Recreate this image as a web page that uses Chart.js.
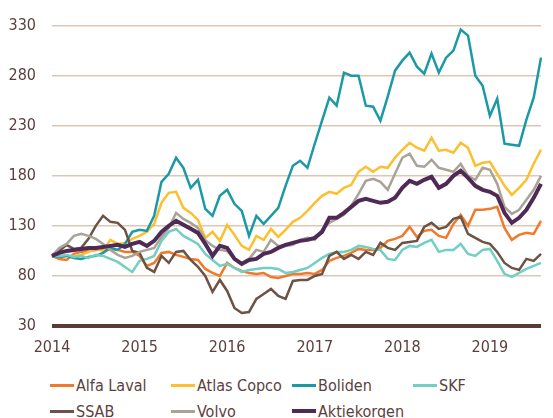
<!DOCTYPE html>
<html>
<head>
<meta charset="utf-8">
<script src="https://cdn.jsdelivr.net/npm/chart.js@4"></script>
<style>
  body { margin: 0; width: 553px; height: 418px; overflow: hidden; background: #fff; }
  #wrap { position: relative; width: 553px; height: 366px; }
  #legend {
    display: grid; grid-template-columns: repeat(4, 121px);
    padding: 8px 0 0 50px; row-gap: 4px;
    font: 16px "DejaVu Sans Condensed", "DejaVu Sans", sans-serif; color: #5b3f3e;
  }
  .item { display: flex; align-items: center; height: 22px; white-space: nowrap; }
  .item i { display: inline-block; width: 24px; margin-right: 2px; }
</style>
</head>
<body>
<div id="wrap"><canvas id="c"></canvas></div>
<div id="legend"></div>
<script>
// monthly index levels, Jan 2014 = 100
const months = [
  '2014-01','2014-02','2014-03','2014-04','2014-05','2014-06','2014-07','2014-08','2014-09','2014-10','2014-11','2014-12',
  '2015-01','2015-02','2015-03','2015-04','2015-05','2015-06','2015-07','2015-08','2015-09','2015-10','2015-11','2015-12',
  '2016-01','2016-02','2016-03','2016-04','2016-05','2016-06','2016-07','2016-08','2016-09','2016-10','2016-11','2016-12',
  '2017-01','2017-02','2017-03','2017-04','2017-05','2017-06','2017-07','2017-08','2017-09','2017-10','2017-11','2017-12',
  '2018-01','2018-02','2018-03','2018-04','2018-05','2018-06','2018-07','2018-08','2018-09','2018-10','2018-11','2018-12',
  '2019-01','2019-02','2019-03','2019-04','2019-05','2019-06','2019-07','2019-08',
];

const alfaLaval = [100,97,96,102,104,105,106,107,107,106, 104,104,100,90,93,103,104,101,99,97,
  96,87,83,80,93,88,85,83,82,83, 79,78,80,82,82,83,82,86,95,98,
  100,103,107,106,106,108,115,117,120,129, 119,125,126,120,118,132,141,130,146,146,
  147,149,128,116,121,123,122,135];
const atlasCopco = [100,99,100,100,101,104,107,105,116,112, 113,117,120,124,132,153,163,164,148,143,
  136,118,124,115,131,121,110,106,120,116, 127,119,126,134,138,145,153,160,164,162,
  168,171,184,189,184,189,188,198,206,213, 208,205,218,205,206,203,213,208,190,193,
  194,182,170,161,168,176,192,206];
const boliden = [100,99,100,98,97,99,100,103,108,106, 112,124,126,125,140,174,182,198,188,168,
  176,147,140,160,166,152,145,120,140,132, 140,148,170,190,195,188,212,235,258,250,
  283,280,280,250,249,235,259,285,295,303, 289,282,302,283,298,305,326,320,280,270,
  240,257,212,211,210,236,258,298];
const skf = [100,100,101,99,100,98,101,100,97,94, 89,84,95,97,100,115,124,127,120,116,
  112,102,96,90,92,88,84,86,87,88, 88,87,83,84,86,88,93,98,102,104,
  104,106,110,109,107,106,97,96,106,110, 109,113,116,104,106,106,112,102,100,106,
  107,95,82,79,83,87,90,93];
const ssab = [100,105,111,107,108,117,130,140,134,133, 126,105,103,88,84,100,93,104,105,96,
  89,80,64,76,65,48,43,44,57,62, 67,60,57,75,76,76,80,82,100,104,
  97,101,97,104,101,113,108,106,113,114, 115,129,133,127,129,137,139,122,118,114,
  112,104,93,88,86,97,95,102];
const volvo = [100,108,112,120,122,120,117,112,106,101, 98,100,104,106,108,119,128,143,137,133,
  128,116,110,106,105,97,93,97,106,104, 116,110,110,111,116,118,116,126,133,137,
  141,150,162,175,177,174,166,182,198,202, 190,189,196,188,186,184,192,180,176,188,
  186,172,149,142,146,156,166,180];
const aktiekorgen = [100,103,105,106,107,108,108,109,110,111, 109,112,114,110,115,124,130,135,131,127,
  123,112,100,110,108,97,92,96,97,102, 104,108,111,113,115,116,118,124,138,138,
  143,149,155,157,155,153,154,158,168,175, 172,176,179,168,172,180,185,178,170,166,
  164,160,143,133,138,146,158,172];

const yTicks = [30, 80, 130, 180, 230, 280, 330];

const series = [
  { name: 'Alfa Laval',  data: alfaLaval,   colour: '#f07a2b', width: 2.5 },
  { name: 'Atlas Copco', data: atlasCopco,  colour: '#fcbf2e', width: 2.5 },
  { name: 'Boliden',     data: boliden,     colour: '#1b99a5', width: 2.5 },
  { name: 'SKF',         data: skf,         colour: '#72cfc1', width: 2.5 },
  { name: 'SSAB',        data: ssab,        colour: '#6d5245', width: 2.5 },
  { name: 'Volvo',       data: volvo,       colour: '#a9a397', width: 2.5 },
  { name: 'Aktiekorgen', data: aktiekorgen, colour: '#502a56', width: 4 },
];

const TEXT = '#5b3f3e';
const FONT = { family: '"DejaVu Sans Condensed", "DejaVu Sans", sans-serif', size: 16 };

new Chart(document.getElementById('c'), {
  type: 'line',
  data: {
    labels: months,
    datasets: series.map((s, i) => ({
      label: s.name,
      data: s.data,
      borderColor: s.colour,
      borderWidth: s.width,
      pointRadius: 0,
      tension: 0,
      order: series.length - i, // last series painted on top
    })),
  },
  options: {
    responsive: true,
    maintainAspectRatio: false,
    animation: false,
    layout: { padding: { top: 10, left: 0, right: 0, bottom: 0 } },
    plugins: { legend: { display: false }, tooltip: { enabled: false } },
    scales: {
      x: {
        grid: { display: false, drawTicks: false },
        border: { display: false },
        afterFit: (axis) => { axis.height = 40; },
        ticks: {
          autoSkip: false, maxRotation: 0, minRotation: 0, padding: 12,
          color: TEXT, font: FONT,
          callback: (v, i) => months[i].endsWith('-01') ? months[i].slice(0, 4) : '',
        },
      },
      y: {
        min: 30, max: 330,
        afterBuildTicks: (axis) => { axis.ticks = yTicks.map(v => ({ value: v })); },
        afterFit: (axis) => { axis.width = 52; },
        border: { display: false },
        grid: {
          drawTicks: false,
          color: (ctx) => ctx.tick && ctx.tick.value === 30 ? '#5a3b37' : '#dfc6b4',
          lineWidth: (ctx) => ctx.tick && ctx.tick.value === 30 ? 4 : 1.5,
        },
        ticks: { color: TEXT, font: FONT, padding: 16 },
      },
    },
  },
});

// legend: 4 fixed columns like the original
const legend = document.getElementById('legend');
for (const s of series) {
  const d = document.createElement('div');
  d.className = 'item';
  d.innerHTML = `<i style="height:${s.width === 4 ? 4 : 3}px;background:${s.colour}"></i>${s.name}`;
  legend.appendChild(d);
}
</script>
</body>
</html>
